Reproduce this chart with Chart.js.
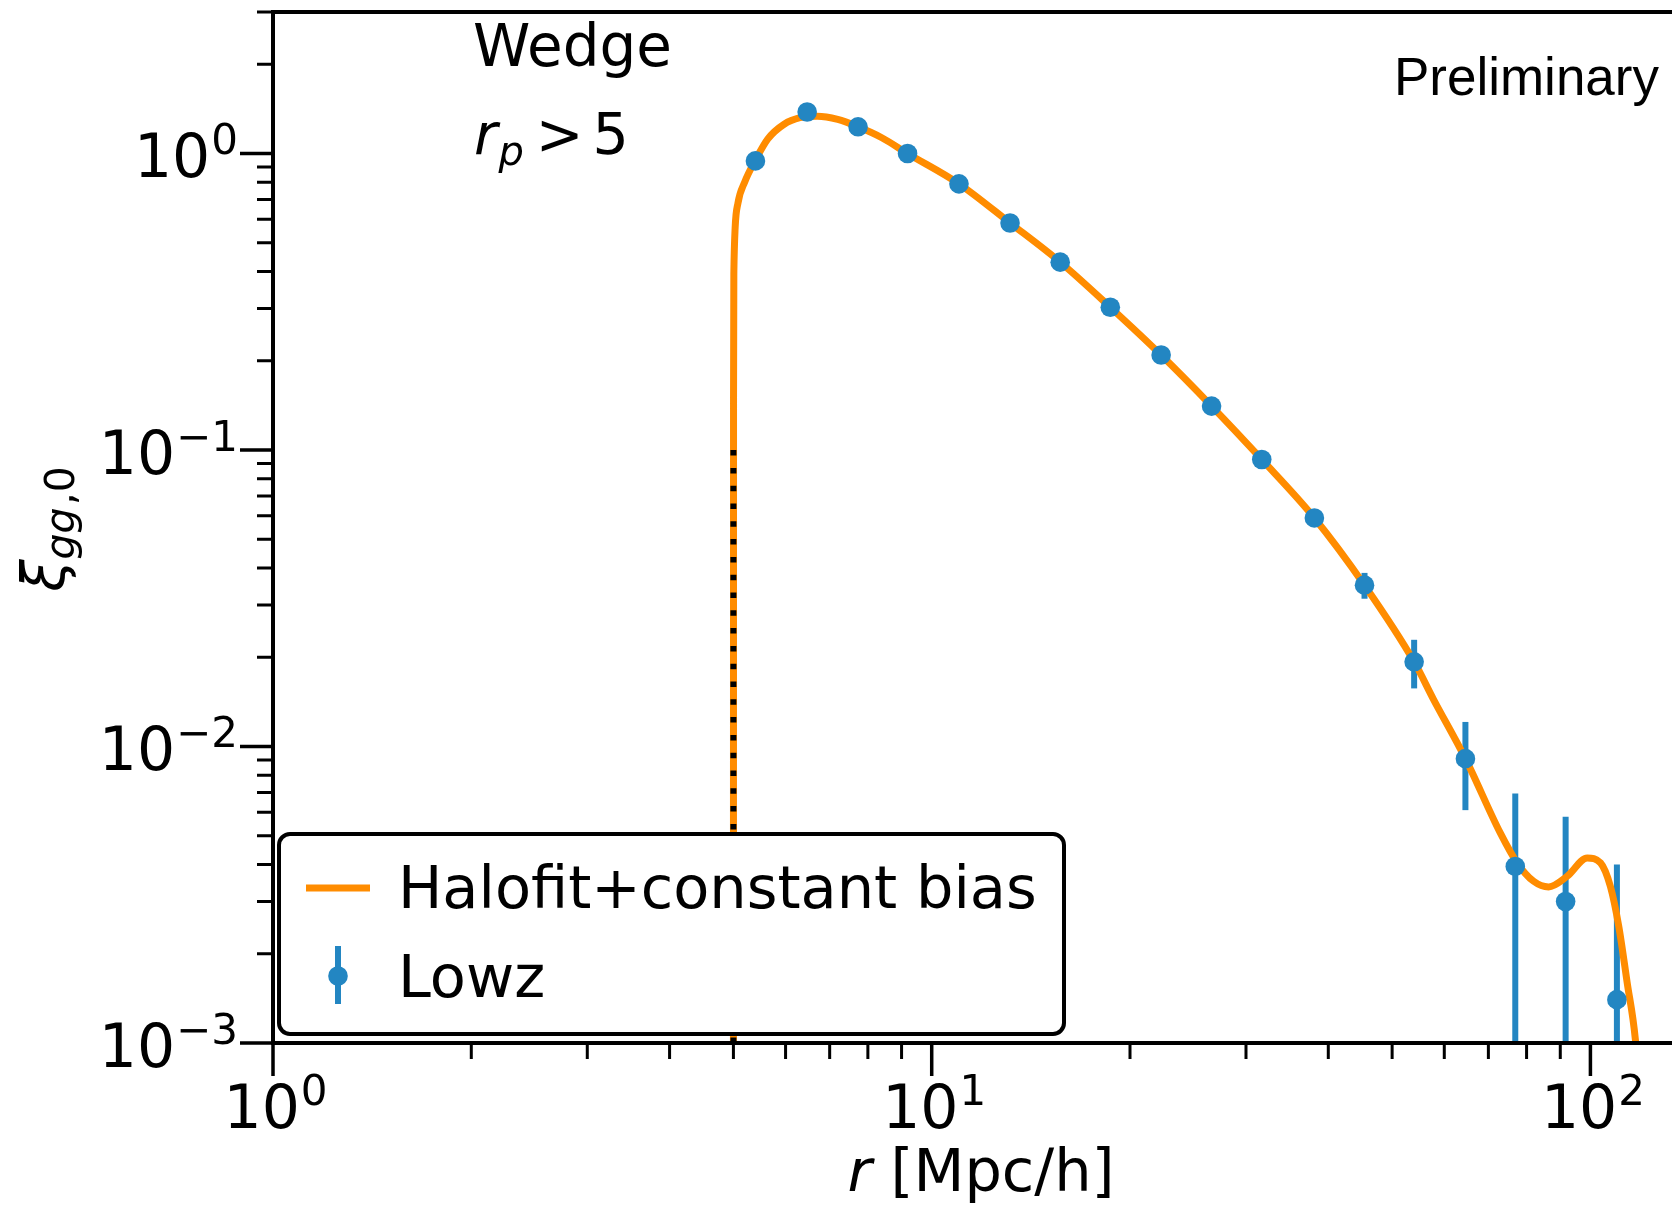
<!DOCTYPE html>
<html>
<head>
<meta charset="utf-8">
<script src="https://cdn.jsdelivr.net/npm/chart.js@4.4.1/dist/chart.umd.min.js"></script>
<style>
    body { margin: 0; background: #fff; }
    #wrap { width: 1672px; height: 1209px; }
</style>
</head>
<body>
<div id="wrap"><canvas id="xiChart" width="1672" height="1209"></canvas></div>
<script>
//data points (Lowz)
const lowzR = [5.40, 6.47, 7.73, 9.19, 11.0, 13.15, 15.67, 18.67, 22.3, 26.6, 31.7, 38.1, 45.4, 54.0, 64.6, 76.9, 91.7, 109.7];
const lowzXi = [0.944, 1.38, 1.23, 1.0, 0.79, 0.583, 0.43, 0.303, 0.209, 0.1406, 0.0929, 0.059, 0.035, 0.0193, 0.0091, 0.00394, 0.0030, 0.0014];
const lowzErr = [0.01, 0.012, 0.01, 0.008, 0.006, 0.005, 0.004, 0.003, 0.0025, 0.002, 0.0018, 0.0017, 0.0035, 0.0036, 0.003, 0.003, 0.0028, 0.0026];

//model curve (Halofit+constant bias)
const modelR = [5.0, 5.002, 5.008, 5.03, 5.08, 5.2, 5.4, 5.64, 5.97, 6.31, 6.7, 7.2, 7.73, 8.4, 9.19, 11.0, 13.15, 15.67, 18.67, 22.3, 26.6, 31.7, 38.1, 45.4, 54.0, 57.8, 64.6, 73.0, 77.4, 82.0, 86.4, 92.2, 98.9, 103.6, 107.2, 110.4, 113.7, 117.0, 118.0];
const modelXi = [0.0005, 0.15, 0.4, 0.56, 0.68, 0.8, 0.95, 1.12, 1.255, 1.32, 1.336, 1.303, 1.23, 1.13, 1.0, 0.79, 0.583, 0.43, 0.303, 0.209, 0.1406, 0.0929, 0.059, 0.035, 0.0193, 0.0144, 0.0091, 0.0051, 0.00405, 0.00351, 0.00336, 0.00365, 0.00421, 0.00405, 0.00338, 0.00248, 0.0016, 0.00103, 0.0008];

//cut r_p > 5
const cutR = 5;
const cutXi = [1e-3, 1e-1];

//ticks
const xTicks = [1, 10, 100];
const xTickExp = ['0', '1', '2'];
const yTicks = [1e-3, 1e-2, 1e-1, 1];
const yTickExp = ['\u22123', '\u22122', '\u22121', '0'];

const blue = '#2386c2';
const orange = '#ff8c00';
const font = '"DejaVu Sans", sans-serif';

//error bars
const errorBars = {
    id: 'errorBars',
    beforeDatasetsDraw(chart) {
        const { ctx, chartArea: a, scales: { x, y } } = chart;
        ctx.save();
        ctx.beginPath();
        ctx.rect(a.left, a.top, a.right - a.left, a.bottom - a.top);
        ctx.clip();
        ctx.strokeStyle = blue;
        ctx.lineWidth = 6;
        lowzR.forEach((r, i) => {
            const px = x.getPixelForValue(r);
            const lo = lowzXi[i] - lowzErr[i];
            const top = y.getPixelForValue(lowzXi[i] + lowzErr[i]);
            const bottom = lo > 0 ? y.getPixelForValue(lo) : a.bottom + 20;
            ctx.beginPath();
            ctx.moveTo(px, top);
            ctx.lineTo(px, bottom);
            ctx.stroke();
        });
        ctx.restore();
    }
};

function drawPow(ctx, exp, x, base, align) {
    ctx.font = '60px ' + font;
    const wb = ctx.measureText('10').width;
    ctx.font = '42px ' + font;
    const we = ctx.measureText(exp).width;
    const left = align === 'right' ? x - wb - we : x - (wb + we) / 2;
    ctx.font = '60px ' + font;
    ctx.fillText('10', left, base);
    ctx.font = '42px ' + font;
    ctx.fillText(exp, left + wb + 1, base - 23);
}

function minorTicks(scale) {
    const out = [];
    const lo = Math.floor(Math.log10(scale.min));
    const hi = Math.ceil(Math.log10(scale.max));
    for (let e = lo; e <= hi; e++) {
        for (let k = 2; k <= 9; k++) {
            const v = k * Math.pow(10, e);
            if (v >= scale.min * 0.999 && v <= scale.max * 1.001) out.push(v);
        }
    }
    return out;
}

//axes, texts, legend
const decor = {
    id: 'decor',
    afterDatasetsDraw(chart) {
        const { ctx, chartArea: a, scales: { x, y } } = chart;
        ctx.save();
        ctx.strokeStyle = '#000';
        ctx.fillStyle = '#000';

        // spines
        ctx.lineWidth = 4;
        ctx.beginPath();
        ctx.moveTo(a.left, a.top);
        ctx.lineTo(a.right + 5, a.top);
        ctx.moveTo(a.left, a.top - 2);
        ctx.lineTo(a.left, a.bottom + 2);
        ctx.moveTo(a.left - 2, a.bottom);
        ctx.lineTo(a.right + 5, a.bottom);
        ctx.stroke();

        // ticks
        ctx.lineWidth = 3.5;
        ctx.beginPath();
        yTicks.forEach(v => {
            const py = y.getPixelForValue(v);
            ctx.moveTo(a.left - 33, py);
            ctx.lineTo(a.left, py);
        });
        xTicks.forEach(v => {
            const px = x.getPixelForValue(v);
            ctx.moveTo(px, a.bottom);
            ctx.lineTo(px, a.bottom + 33);
        });
        ctx.stroke();
        ctx.lineWidth = 3;
        ctx.beginPath();
        minorTicks(y).forEach(v => {
            const py = y.getPixelForValue(v);
            ctx.moveTo(a.left - 16, py);
            ctx.lineTo(a.left, py);
        });
        minorTicks(x).forEach(v => {
            const px = x.getPixelForValue(v);
            ctx.moveTo(px, a.bottom);
            ctx.lineTo(px, a.bottom + 16);
        });
        ctx.stroke();

        // tick labels
        ctx.textBaseline = 'alphabetic';
        ctx.textAlign = 'left';
        yTicks.forEach((v, i) => {
            drawPow(ctx, yTickExp[i], 237, y.getPixelForValue(v) + 24, 'right');
        });
        xTicks.forEach((v, i) => {
            drawPow(ctx, xTickExp[i], x.getPixelForValue(v) + 2, a.bottom + 85, 'center');
        });

        // x title
        ctx.font = 'italic 59px ' + font;
        const wr = ctx.measureText('r').width;
        ctx.font = '59px ' + font;
        const wt = ctx.measureText(' [Mpc/h]').width;
        const xl = 981 - (wr + wt) / 2;
        ctx.font = 'italic 59px ' + font;
        ctx.fillText('r', xl, 1191);
        ctx.font = '59px ' + font;
        ctx.fillText(' [Mpc/h]', xl + wr, 1191);

        // y title
        ctx.save();
        ctx.translate(64, 530);
        ctx.rotate(-Math.PI / 2);
        ctx.font = 'italic 58px ' + font;
        const wxi = ctx.measureText('\u03be').width;
        ctx.font = 'italic 41px ' + font;
        const wgg = ctx.measureText('gg').width;
        ctx.font = '41px ' + font;
        const w0 = ctx.measureText(',0').width;
        const yl = -(wxi + wgg + w0) / 2;
        ctx.font = 'italic 58px ' + font;
        ctx.fillText('\u03be', yl, 0);
        ctx.font = 'italic 41px ' + font;
        ctx.fillText('gg', yl + wxi, 10);
        ctx.font = '41px ' + font;
        ctx.fillText(',0', yl + wxi + wgg + 2, 10);
        ctx.restore();

        // annotations
        ctx.font = '58px ' + font;
        ctx.fillText('Wedge', 473, 66);
        ctx.font = 'italic 57px ' + font;
        ctx.fillText('r', 474, 154);
        const rw = ctx.measureText('r').width;
        ctx.font = 'italic 40px ' + font;
        ctx.fillText('p', 474 + rw + 1, 165);
        const pw = ctx.measureText('p').width;
        ctx.font = '57px ' + font;
        const gx = 474 + rw + pw + 13;
        ctx.fillText('>', gx, 154);
        const gw = ctx.measureText('>').width;
        ctx.fillText('5', gx + gw + 9, 154);

        ctx.font = '53px "Liberation Sans", Arial, sans-serif';
        ctx.textAlign = 'right';
        ctx.fillText('Preliminary', 1659, 95);
        ctx.textAlign = 'left';

        // legend
        const L = 279, T = 834, R = 1064, B = 1034, rad = 11;
        ctx.beginPath();
        ctx.moveTo(L + rad, T);
        ctx.arcTo(R, T, R, B, rad);
        ctx.arcTo(R, B, L, B, rad);
        ctx.arcTo(L, B, L, T, rad);
        ctx.arcTo(L, T, R, T, rad);
        ctx.closePath();
        ctx.fillStyle = '#fff';
        ctx.fill();
        ctx.lineWidth = 4;
        ctx.strokeStyle = '#000';
        ctx.stroke();

        ctx.strokeStyle = orange;
        ctx.lineWidth = 7;
        ctx.beginPath();
        ctx.moveTo(306, 888);
        ctx.lineTo(370, 888);
        ctx.stroke();

        ctx.strokeStyle = blue;
        ctx.lineWidth = 6;
        ctx.beginPath();
        ctx.moveTo(338, 946);
        ctx.lineTo(338, 1004);
        ctx.stroke();
        ctx.fillStyle = blue;
        ctx.beginPath();
        ctx.arc(338, 976, 9.8, 0, Math.PI * 2);
        ctx.fill();

        ctx.fillStyle = '#000';
        ctx.font = '59px ' + font;
        ctx.fillText(chart.data.datasets[2].label, 398, 908);
        ctx.fillText(chart.data.datasets[0].label, 398, 997);
        ctx.restore();
    }
};

//chart
const xiChart = new Chart(document.getElementById('xiChart'), {
    type: 'scatter',
    data: {
        datasets: [
            {
                label: 'Lowz',
                data: lowzR.map((r, i) => ({ x: r, y: lowzXi[i] })),
                backgroundColor: blue,
                borderWidth: 0,
                pointRadius: 9.8,
                order: 0
            },
            {
                label: 'cut',
                type: 'line',
                showLine: true,
                data: cutXi.map(v => ({ x: cutR, y: v })),
                borderColor: '#000',
                borderWidth: 6,
                borderDash: [5.5, 12.3],
                borderCapStyle: 'butt',
                pointRadius: 0,
                order: 1
            },
            {
                label: 'Halofit+constant bias',
                type: 'line',
                showLine: true,
                data: modelR.map((r, i) => ({ x: r, y: modelXi[i] })),
                borderColor: orange,
                borderWidth: 7,
                cubicInterpolationMode: 'monotone',
                pointRadius: 0,
                order: 2
            }
        ]
    },
    options: {
        responsive: false,
        animation: false,
        devicePixelRatio: 1,
        events: [],
        layout: { autoPadding: false, padding: { left: 273, top: 12, right: 0, bottom: 166 } },
        scales: {
            x: { type: 'logarithmic', min: 1, max: 133, display: false },
            y: { type: 'logarithmic', min: 1e-3, max: 3, display: false }
        },
        plugins: {
            legend: { display: false },
            tooltip: { enabled: false }
        }
    },
    plugins: [errorBars, decor]
});
</script>
</body>
</html>
